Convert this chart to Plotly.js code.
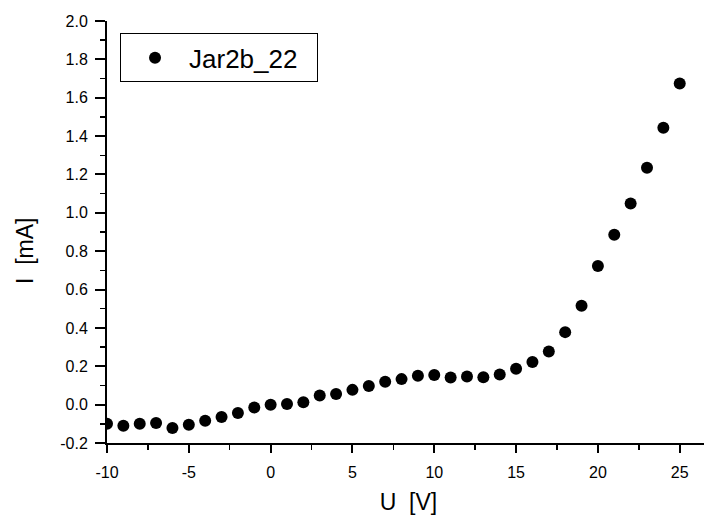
<!DOCTYPE html>
<html>
<head>
<meta charset="utf-8">
<script src="https://cdn.plot.ly/plotly-3.0.1.min.js"></script>
<style>
  html, body { margin: 0; padding: 0; overflow: hidden; background: #fff; }
  #chart { width: 712px; height: 519px; }
</style>
</head>
<body>
<div id="chart"></div>
<script>
// Data
const seriesName = 'Jar2b_22';
const voltage = [-10, -9, -8, -7, -6, -5, -4, -3, -2, -1, 0, 1, 2, 3, 4, 5, 6, 7, 8, 9, 10,
                 11, 12, 13, 14, 15, 16, 17, 18, 19, 20, 21, 22, 23, 24, 25];
const current = [-0.100, -0.110, -0.100, -0.096, -0.122, -0.105, -0.084, -0.065, -0.044, -0.015, -0.001,
                 0.003, 0.013, 0.048, 0.055, 0.077, 0.097, 0.119, 0.133, 0.150, 0.154,
                 0.142, 0.147, 0.143, 0.157, 0.187, 0.222, 0.277, 0.378, 0.515, 0.723,
                 0.886, 1.049, 1.235, 1.443, 1.674];
const xTickVals = [-10, -5, 0, 5, 10, 15, 20, 25];
const xTickText = ['-10', '-5', '0', '5', '10', '15', '20', '25'];
const yTickVals = [-0.2, 0.0, 0.2, 0.4, 0.6, 0.8, 1.0, 1.2, 1.4, 1.6, 1.8, 2.0];
const yTickText = ['-0.2', '0.0', '0.2', '0.4', '0.6', '0.8', '1.0', '1.2', '1.4', '1.6', '1.8', '2.0'];
const xTitle = 'U\u00a0 [V]';
const yTitle = 'I\u00a0 [mA]';

const FONT = 'Liberation Sans, Arial, sans-serif';
const xRange = [-10, 26.85];
const yRange = [-0.2, 2.0];

const trace = {
  x: voltage,
  y: current,
  type: 'scatter',
  mode: 'markers',
  name: seriesName + '\u00a0\u00a0',
  marker: { color: '#000', size: 12 },
  showlegend: true
};

const baseX = {
  range: xRange,
  showgrid: false,
  zeroline: false,
  showline: true,
  linecolor: '#000',
  linewidth: 2,
  tickmode: 'array',
  tickvals: xTickVals,
  ticktext: xTickText,
  tickcolor: '#000',
  tickwidth: 2,
  minor: { tickmode: 'linear', dtick: 2.5, tick0: -10, ticklen: 5, tickwidth: 1.5, tickcolor: '#000', showgrid: false }
};
const baseY = {
  range: yRange,
  showgrid: false,
  zeroline: false,
  showline: true,
  linecolor: '#000',
  linewidth: 2,
  tickmode: 'array',
  tickvals: yTickVals,
  ticktext: yTickText,
  tickcolor: '#000',
  tickwidth: 2,
  minor: { tickmode: 'linear', dtick: 0.1, tick0: -0.2, ticklen: 5, tickwidth: 1.5, tickcolor: '#000', showgrid: false }
};

const layout = {
  width: 712,
  height: 519,
  margin: { l: 107, r: 2, t: 21, b: 76 },
  paper_bgcolor: '#fff',
  plot_bgcolor: '#fff',
  font: { family: FONT, color: '#000', size: 16 },
  showlegend: true,
  xaxis: Object.assign({}, baseX, {
    side: 'bottom',
    ticks: 'outside',
    ticklen: 8,
    minor: Object.assign({}, baseX.minor, { ticks: 'outside' }),
    tickfont: { family: FONT, size: 16, color: '#000' },
    ticklabelstandoff: 6,
    title: { text: xTitle, font: { family: FONT, size: 23, color: '#000' }, standoff: 14 }
  }),
  yaxis: Object.assign({}, baseY, {
    side: 'left',
    ticks: 'outside',
    ticklen: 10,
    minor: Object.assign({}, baseY.minor, { ticks: 'outside' }),
    tickfont: { family: FONT, size: 16, color: '#000' },
    ticklabelstandoff: 4
  }),
  xaxis2: Object.assign({}, baseX, {
    overlaying: 'x',
    anchor: 'y',
    side: 'top',
    ticks: 'inside',
    ticklen: 9,
    minor: Object.assign({}, baseX.minor, { ticks: 'inside' }),
    showticklabels: false
  }),
  yaxis2: Object.assign({}, baseY, {
    overlaying: 'y',
    anchor: 'x',
    side: 'right',
    ticks: 'inside',
    ticklen: 8,
    minor: Object.assign({}, baseY.minor, { ticks: 'inside' }),
    showticklabels: false
  }),
  legend: {
    x: 0.0216,
    y: 0.971,
    xanchor: 'left',
    yanchor: 'top',
    bgcolor: '#fff',
    bordercolor: '#000',
    borderwidth: 1,
    itemwidth: 58,
    font: { family: FONT, size: 26, color: '#000' }
  },
  annotations: [{
    text: yTitle,
    xref: 'paper',
    yref: 'paper',
    x: -0.136,
    y: 0.455,
    xanchor: 'center',
    yanchor: 'middle',
    textangle: -90,
    showarrow: false,
    font: { family: FONT, size: 23, color: '#000' }
  }]
};

Plotly.newPlot('chart', [trace], layout, { displayModeBar: false, staticPlot: true });
</script>
</body>
</html>
